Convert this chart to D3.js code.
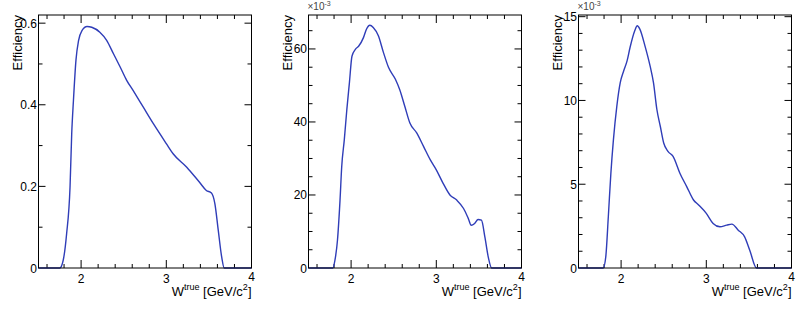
<!DOCTYPE html>
<meta charset="utf-8">
<head>
  <title>Efficiency vs W</title>
  <script src="https://d3js.org/d3.v7.min.js"></script>
</head>
<style>
body { margin: 0; background: #fff; }
svg { display: block; }
.frame { fill: none; stroke: #000; stroke-width: 1px; }
text { font-family: "Liberation Sans", Arial, sans-serif; fill: #000; }
.curve { fill: none; stroke: #2f3db8; stroke-width: 1.4px; }
</style>
<body>
<script>
// W^true values (GeV/c^2) and efficiencies
var w1 = [1.5, 1.75, 1.79, 1.83, 1.87, 1.89, 1.91, 1.94, 1.97, 2.01, 2.07, 2.125, 2.22, 2.30, 2.38, 2.46, 2.535, 2.61, 2.73, 2.85, 3.0, 3.08, 3.24, 3.39, 3.47, 3.53, 3.57, 3.61, 3.65, 3.68, 4.0]
var eff1 = [0, 0, 0.019, 0.084, 0.198, 0.33, 0.41, 0.51, 0.557, 0.582, 0.592, 0.59, 0.578, 0.558, 0.525, 0.492, 0.46, 0.435, 0.394, 0.353, 0.305, 0.28, 0.247, 0.21, 0.19, 0.184, 0.158, 0.092, 0.027, 0, 0]

var w2 = [1.5, 1.785, 1.81, 1.84, 1.87, 1.89, 1.92, 1.95, 1.98, 2.01, 2.05, 2.09, 2.145, 2.18, 2.22, 2.26, 2.32, 2.38, 2.44, 2.52, 2.57, 2.63, 2.69, 2.77, 2.85, 2.93, 3.0, 3.08, 3.16, 3.24, 3.32, 3.375, 3.41, 3.45, 3.49, 3.53, 3.57, 3.61, 3.65, 4.0]
var eff2 = [0, 0, 2.1, 7.6, 18.6, 27.8, 35.1, 43.4, 50.7, 58, 59.9, 60.8, 63.1, 65.4, 66.5, 65.9, 63.6, 59, 54.9, 51.7, 48.9, 44.3, 39.7, 37, 33.3, 29.6, 26.9, 23.2, 20, 18.6, 16.3, 13.6, 11.7, 12.2, 13.3, 13.1, 8.5, 3, 0, 0]

var w3 = [1.5, 1.79, 1.82, 1.85, 1.88, 1.91, 1.95, 1.99, 2.03, 2.07, 2.105, 2.16, 2.19, 2.22, 2.28, 2.34, 2.38, 2.42, 2.46, 2.50, 2.55, 2.61, 2.69, 2.77, 2.85, 2.91, 3.0, 3.08, 3.16, 3.24, 3.30, 3.375, 3.45, 3.51, 3.59, 4.0]
var eff3 = [0, 0, 0.66, 3.06, 5.66, 7.66, 9.66, 11.06, 11.76, 12.36, 13.16, 14.16, 14.46, 14.26, 13.26, 12.06, 11.06, 9.46, 8.46, 7.46, 6.96, 6.66, 5.66, 4.86, 4.06, 3.76, 3.26, 2.66, 2.46, 2.56, 2.62, 2.26, 1.86, 1.06, 0, 0]

var xTickLabels = [2, 3, 4]
var yTickLabels1 = [0, 0.2, 0.4, 0.6]
var yTickLabels2 = [0, 20, 40, 60]
var yTickLabels3 = [0, 5, 10, 15]

var panels = [
  {w: w1, eff: eff1, ymax: 0.62, yLabels: yTickLabels1, yMinor: 0.1, fmt: function(d){ return d === 0 ? "0" : d.toFixed(1) }, exp: false},
  {w: w2, eff: eff2, ymax: 69.3, yLabels: yTickLabels2, yMinor: 5, fmt: String, exp: true},
  {w: w3, eff: eff3, ymax: 15.1, yLabels: yTickLabels3, yMinor: 1, fmt: String, exp: true}
]

var width = 810, height = 311
var svg = d3.select("body").append("svg")
    .attr("width", width)
    .attr("height", height)

var pw = 213, plotTop = 15, plotBottom = 268

panels.forEach(function(p, i) {
  var left = 38.5 + 270 * i
  var g = svg.append("g")

  var x = d3.scaleLinear().domain([1.5, 4]).range([left, left + pw])
  var y = d3.scaleLinear().domain([0, p.ymax]).range([plotBottom, plotTop])

  // x ticks (bottom + top)
  var xMinor = d3.range(1.6, 4.0, 0.2).map(function(d){ return +d.toFixed(1) })
  xMinor.forEach(function(v) {
    var major = Math.abs(v - Math.round(v)) < 1e-6
    var len = major ? 8 : 4
    g.append("line").attr("x1", x(v)).attr("x2", x(v)).attr("y1", plotBottom).attr("y2", plotBottom - len).attr("stroke", "#000")
    g.append("line").attr("x1", x(v)).attr("x2", x(v)).attr("y1", plotTop).attr("y2", plotTop + len).attr("stroke", "#000")
  })
  xTickLabels.forEach(function(v) {
    g.append("text")
      .attr("x", x(v))
      .attr("y", v === 4 ? 281 : 283)
      .attr("text-anchor", "middle")
      .style("font-size", "12px")
      .text(v)
  })

  // y ticks (left + right)
  var n = Math.floor(p.ymax / p.yMinor + 1e-6)
  var majorStep = p.yLabels[1]
  for (var k = 1; k <= n; k++) {
    var v = k * p.yMinor
    var major = Math.abs(v / majorStep - Math.round(v / majorStep)) < 1e-6
    var len = major ? 7 : 4
    g.append("line").attr("x1", left).attr("x2", left + len).attr("y1", y(v)).attr("y2", y(v)).attr("stroke", "#000")
    g.append("line").attr("x1", left + pw).attr("x2", left + pw - len).attr("y1", y(v)).attr("y2", y(v)).attr("stroke", "#000")
  }
  p.yLabels.forEach(function(v) {
    g.append("text")
      .attr("x", left - 1.5)
      .attr("y", y(v) + 4.5)
      .attr("text-anchor", "end")
      .style("font-size", "12px")
      .text(p.fmt(v))
  })

  if (p.exp) {
    var e = g.append("text")
      .attr("x", left - 1)
      .attr("y", 10)
      .style("font-size", "10px")
      .style("fill", "#444")
    e.append("tspan").text("\u00d710")
    e.append("tspan").attr("dy", -4).style("font-size", "7px").text("-3")
  }

  // axis titles
  g.append("text")
    .attr("transform", "translate(" + (left - 16.5) + "," + plotTop + ") rotate(-90)")
    .attr("text-anchor", "end")
    .style("font-size", "13px")
    .text("Efficiency")

  var t = g.append("text")
    .attr("x", left + pw)
    .attr("y", 296)
    .attr("text-anchor", "end")
    .style("font-size", "13px")
  t.append("tspan").text("W")
  t.append("tspan").attr("dy", -6).style("font-size", "9px").text("true")
  t.append("tspan").attr("dy", 6).text(" [GeV/c")
  t.append("tspan").attr("dy", -6).style("font-size", "9px").text("2")
  t.append("tspan").attr("dy", 6).text("]")

  var line = d3.line()
    .x(function(d, j){ return x(p.w[j]) })
    .y(function(d){ return y(d) })
    .curve(d3.curveMonotoneX)

  g.append("path")
    .datum(p.eff)
    .attr("class", "curve")
    .attr("d", line)

  g.append("rect")
    .attr("class", "frame")
    .attr("x", left)
    .attr("y", plotTop)
    .attr("width", pw)
    .attr("height", plotBottom - plotTop)
})
</script>
</body>
</html>
